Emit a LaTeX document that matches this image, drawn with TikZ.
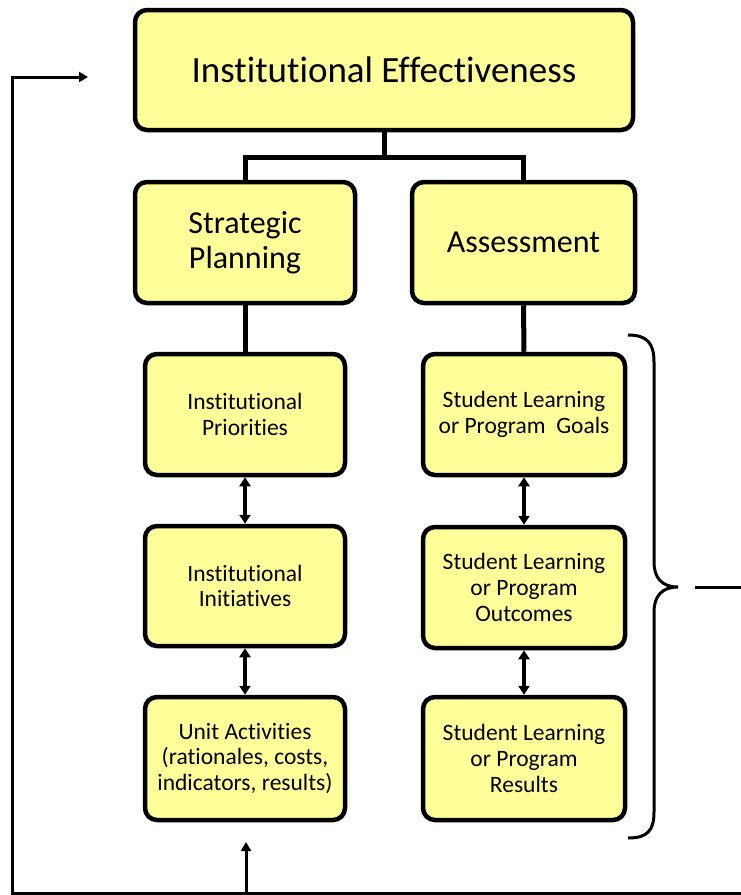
\documentclass[tikz,border=0pt]{standalone}
\usepackage{fontspec}
\setmainfont{Carlito}[RawFeature={-liga}]
\usetikzlibrary{arrows.meta}
\definecolor{boxfill}{RGB}{255,255,153}
\tikzset{
  box/.style={draw=black, fill=boxfill, line width=4.5pt, rounded corners=12pt, align=center, inner sep=0pt},
  bigbox/.style={box, font=\fontsize{37}{40}\selectfont},
  midbox/.style={box, font=\fontsize{32}{35}\selectfont},
  smallbox/.style={box, font=\fontsize{23.5}{25.8}\selectfont},
  conn/.style={line width=5pt},
  dbl/.style={line width=4pt, {Triangle[length=9pt,width=11pt]}-{Triangle[length=9pt,width=11pt]}},
  feed/.style={line width=3pt},
  feedarrow/.style={line width=3pt, -{Triangle[length=9pt,width=10pt]}},
}
\begin{document}
\begin{tikzpicture}[x=1pt,y=-1pt]
\useasboundingbox (0,0) rectangle (741,895);
% boxes
\node[bigbox, minimum width=498pt, minimum height=120pt] (top) at (384,70) {Institutional Effectiveness};
\node[midbox, minimum width=220pt, minimum height=121pt] (sp) at (245,242.5) {Strategic\\Planning};
\node[midbox, minimum width=223pt, minimum height=121pt] (as) at (523.5,242.5) {Assessment};
\node[smallbox, minimum width=200pt, minimum height=121pt] (ip) at (245,414.5) {Institutional\\Priorities};
\node[smallbox, minimum width=202pt, minimum height=121pt] (slg) at (524,414.5) {Student Learning\\or Program~ Goals};
\node[smallbox, minimum width=200pt, minimum height=120pt] (ii) at (245,586) {Institutional\\Initiatives};
\node[smallbox, minimum width=202pt, minimum height=121pt] (slo) at (524,587.5) {Student Learning\\or Program\\Outcomes};
\node[smallbox, minimum width=200pt, minimum height=123pt] (ua) at (245,758.5) {Unit Activities\\(rationales, costs,\\indicators, results)};
\node[smallbox, minimum width=202pt, minimum height=123pt] (slr) at (524,758.5) {Student Learning\\or Program\\Results};
% tree connectors
\coordinate (j) at (384,157);
\draw[conn] (top.south) -- (j);
\draw[conn] (sp.north) |- (j) -| (as.north);
\draw[conn] (sp.south) -- (ip.north);
\draw[conn] (as.south) -- (slg.north);
% double arrows
\draw[dbl] (ip.south) -- (ii.north);
\draw[dbl] (ii.south) -- (ua.north);
\draw[dbl] (slg.south) -- (slo.north);
\draw[dbl] (slo.south) -- (slr.north);
% feedback loop
\coordinate (br) at (741,893);
\coordinate (bl) at (12,893);
\coordinate (tl) at (12,77);
\coordinate (tip) at (88,77);
\coordinate (bm) at (246,893);
\coordinate (uain) at (246,842);
\draw[feed] (br) -- (bl) -- (tl) -- ++(10,0);
\draw[feedarrow] (tl) -- (tip);
\draw[feedarrow] (bm) -- (uain);
% brace
\draw[line width=3pt] (628,335) .. controls (647,335) and (654,343) .. (654,362)
  -- (654,562) .. controls (654,578) and (662,587) .. (678,587)
  .. controls (662,587) and (654,596) .. (654,612)
  -- (654,812) .. controls (654,831) and (647,838) .. (628,838);
\coordinate (bo) at (695,587);
\coordinate (be) at (741,587);
\draw[feed] (bo) -- (be);
\end{tikzpicture}
\end{document}
